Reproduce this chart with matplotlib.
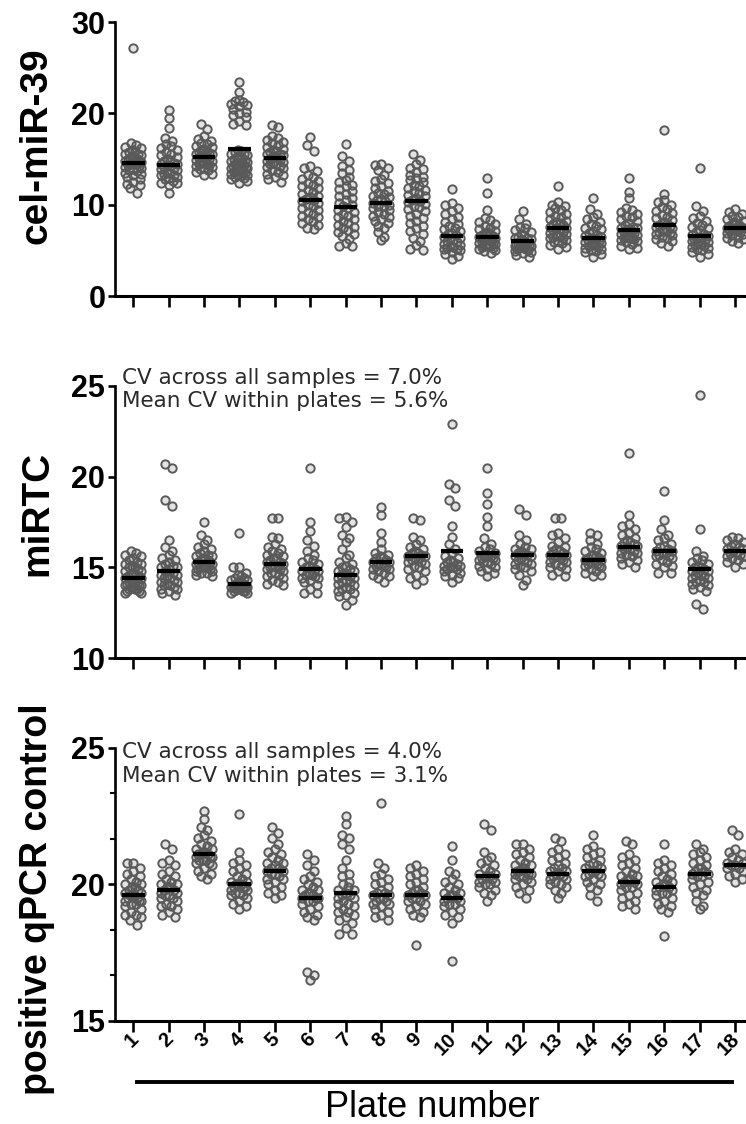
import numpy as np
import matplotlib
matplotlib.use("Agg")
import matplotlib.pyplot as plt
from matplotlib import font_manager
from matplotlib.lines import Line2D
from matplotlib.transforms import ScaledTranslation

# ---------------- data ----------------
plates = list(range(1, 19))
plate_labels = [str(p) for p in plates]

celmir39 = [
    [27.1, 16.8, 16.5, 16.3, 16.2, 16.0, 15.9, 15.8, 15.6, 15.5, 15.4, 15.3, 15.2, 15.1, 15.0, 15.0, 14.9, 14.8, 14.7, 14.6, 14.6, 14.5, 14.4, 14.3, 14.2, 14.1, 14.0, 13.9, 13.8, 13.7, 13.5, 13.4, 13.2, 13.0, 12.8, 12.5, 12.3, 12.1, 11.8, 11.3],
    [20.4, 19.5, 18.4, 17.3, 17.0, 16.6, 16.4, 16.2, 16.0, 15.8, 15.6, 15.4, 15.2, 15.0, 14.9, 14.8, 14.6, 14.5, 14.4, 14.3, 14.2, 14.1, 14.0, 13.9, 13.8, 13.6, 13.5, 13.4, 13.3, 13.2, 13.0, 12.9, 12.8, 12.6, 12.4, 12.4, 12.2, 11.3],
    [18.8, 18.3, 17.5, 17.2, 17.0, 16.8, 16.6, 16.4, 16.3, 16.1, 16.0, 15.9, 15.8, 15.7, 15.6, 15.5, 15.4, 15.3, 15.2, 15.1, 15.0, 14.9, 14.8, 14.7, 14.6, 14.5, 14.4, 14.3, 14.2, 14.1, 14.0, 13.9, 13.8, 13.6, 13.4, 13.2],
    [23.4, 22.3, 21.5, 21.3, 21.2, 21.0, 20.9, 20.8, 20.5, 20.2, 20.0, 19.8, 19.6, 19.2, 18.8, 18.7,
     16.0, 15.9, 15.8, 15.6, 15.5, 15.4, 15.3, 15.2, 15.1, 15.0, 14.9, 14.8, 14.7, 14.6, 14.6, 14.5, 14.5, 14.4, 14.3, 14.2, 14.1, 14.0, 14.0, 13.9, 13.8, 13.7, 13.6, 13.6, 13.5, 13.4, 13.3, 13.2, 13.1, 13.0, 12.9, 12.8, 12.6, 12.4],
    [18.7, 18.5, 17.5, 17.3, 17.1, 16.9, 16.7, 16.5, 16.3, 16.1, 16.0, 15.9, 15.8, 15.6, 15.5, 15.4, 15.3, 15.2, 15.1, 15.0, 14.9, 14.8, 14.7, 14.6, 14.5, 14.4, 14.2, 14.1, 14.0, 13.8, 13.6, 13.4, 13.2, 13.0, 12.8, 12.5],
    [17.4, 16.5, 15.9, 14.2, 14.0, 13.7, 13.2, 13.0, 12.8, 12.6, 12.4, 12.2, 12.0, 11.8, 11.6, 11.4, 11.2, 11.0, 10.8, 10.6, 10.5, 10.4, 10.2, 10.0, 9.8, 9.6, 9.4, 9.2, 9.0, 8.8, 8.6, 8.4, 8.2, 8.0, 7.8, 7.5, 7.3],
    [16.6, 15.3, 14.8, 14.2, 13.8, 13.5, 13.0, 12.7, 12.5, 12.2, 12.0, 11.7, 11.5, 11.2, 11.0, 10.7, 10.5, 10.2, 10.0, 9.8, 9.6, 9.4, 9.2, 9.0, 8.8, 8.6, 8.4, 8.2, 8.0, 7.8, 7.6, 7.4, 7.2, 7.0, 6.8, 6.6, 6.2, 5.8, 5.5, 5.5],
    [14.5, 14.3, 14.0, 13.8, 13.2, 12.8, 12.6, 12.4, 12.0, 11.8, 11.5, 11.3, 11.2, 11.0, 10.8, 10.6, 10.5, 10.4, 10.2, 10.0, 9.9, 9.8, 9.6, 9.4, 9.2, 9.0, 8.8, 8.6, 8.4, 8.2, 8.0, 7.7, 7.4, 7.0, 6.5, 6.1],
    [15.5, 14.9, 14.4, 14.0, 13.9, 13.6, 13.3, 13.0, 12.9, 12.7, 12.5, 12.2, 12.0, 11.8, 11.6, 11.5, 11.3, 11.1, 10.9, 10.7, 10.5, 10.4, 10.3, 10.1, 9.9, 9.7, 9.5, 9.3, 9.0, 8.8, 8.5, 8.2, 8.0, 7.7, 7.4, 7.1, 6.8, 6.4, 6.0, 5.6, 5.2, 5.0],
    [11.7, 10.2, 10.0, 9.6, 9.3, 9.0, 8.7, 8.4, 8.1, 7.9, 7.7, 7.5, 7.3, 7.1, 6.9, 6.8, 6.7, 6.5, 6.4, 6.2, 6.1, 6.0, 5.9, 5.7, 5.6, 5.5, 5.4, 5.3, 5.2, 5.1, 5.0, 4.8, 4.6, 4.4, 4.1],
    [12.9, 11.3, 9.4, 8.5, 8.3, 8.1, 7.9, 7.7, 7.5, 7.3, 7.1, 7.0, 6.9, 6.8, 6.7, 6.6, 6.5, 6.4, 6.3, 6.2, 6.1, 6.0, 5.9, 5.8, 5.8, 5.7, 5.6, 5.5, 5.5, 5.4, 5.3, 5.2, 5.0, 4.9, 4.7],
    [9.3, 8.4, 7.9, 7.6, 7.4, 7.2, 7.0, 6.8, 6.7, 6.5, 6.4, 6.3, 6.2, 6.1, 6.0, 6.0, 5.9, 5.8, 5.8, 5.7, 5.6, 5.5, 5.5, 5.4, 5.3, 5.3, 5.2, 5.1, 5.0, 4.9, 4.8, 4.7, 4.5, 4.3],
    [12.0, 10.3, 10.0, 9.8, 9.6, 9.4, 9.2, 9.0, 8.8, 8.6, 8.4, 8.2, 8.1, 8.0, 7.9, 7.8, 7.6, 7.5, 7.4, 7.3, 7.2, 7.0, 6.9, 6.8, 6.7, 6.6, 6.5, 6.4, 6.3, 6.1, 6.0, 5.9, 5.8, 5.6, 5.4, 5.1],
    [10.7, 9.5, 9.0, 8.7, 8.4, 8.1, 7.9, 7.7, 7.5, 7.3, 7.1, 6.9, 6.7, 6.6, 6.5, 6.4, 6.3, 6.2, 6.1, 6.0, 5.9, 5.8, 5.7, 5.6, 5.5, 5.4, 5.3, 5.2, 5.0, 4.9, 4.8, 4.6, 4.3],
    [12.9, 11.4, 10.7, 9.6, 9.4, 9.2, 9.0, 8.8, 8.6, 8.4, 8.2, 8.0, 7.8, 7.6, 7.5, 7.4, 7.3, 7.2, 7.1, 7.0, 6.9, 6.8, 6.7, 6.6, 6.5, 6.4, 6.3, 6.2, 6.1, 6.0, 5.9, 5.7, 5.5, 5.3, 5.1],
    [18.2, 11.2, 10.5, 10.3, 10.0, 9.7, 9.5, 9.3, 9.1, 8.9, 8.7, 8.5, 8.3, 8.1, 8.0, 7.9, 7.8, 7.7, 7.6, 7.5, 7.3, 7.2, 7.1, 7.0, 6.9, 6.8, 6.7, 6.5, 6.4, 6.2, 6.0, 5.8, 5.5],
    [14.0, 9.8, 9.3, 8.8, 8.5, 8.2, 8.0, 7.8, 7.6, 7.4, 7.2, 7.0, 6.8, 6.7, 6.6, 6.5, 6.4, 6.3, 6.2, 6.1, 6.0, 5.9, 5.8, 5.7, 5.6, 5.5, 5.4, 5.3, 5.1, 5.0, 4.8, 4.6, 4.3],
    [9.5, 9.2, 9.0, 8.8, 8.6, 8.4, 8.2, 8.1, 8.0, 7.9, 7.8, 7.7, 7.6, 7.5, 7.5, 7.4, 7.3, 7.2, 7.1, 7.0, 6.9, 6.8, 6.7, 6.5, 6.4, 6.2, 6.0, 5.8],
]
celmir39_mean = [14.6, 14.3, 15.2, 16.1, 15.1, 10.5, 9.7, 10.2, 10.4, 6.6, 6.5, 6.0, 7.4, 6.4, 7.2, 7.8, 6.6, 7.5]

mirtc = [
    [15.9, 15.8, 15.7, 15.6, 15.5, 15.4, 15.3, 15.2, 15.2, 15.1, 15.0, 15.0, 14.9, 14.8, 14.8, 14.7, 14.6, 14.6, 14.5, 14.5, 14.4, 14.4, 14.3, 14.3, 14.2, 14.2, 14.1, 14.1, 14.0, 14.0, 14.0, 13.9, 13.9, 13.8, 13.8, 13.8, 13.7, 13.7, 13.6, 13.6],
    [20.7, 20.5, 18.7, 18.4, 16.5, 16.1, 15.9, 15.7, 15.5, 15.4, 15.3, 15.2, 15.1, 15.0, 15.0, 14.9, 14.8, 14.7, 14.6, 14.6, 14.5, 14.4, 14.4, 14.3, 14.2, 14.2, 14.1, 14.0, 14.0, 13.9, 13.8, 13.8, 13.7, 13.6, 13.5],
    [17.5, 16.8, 16.5, 16.3, 16.1, 16.0, 15.9, 15.8, 15.7, 15.6, 15.6, 15.5, 15.5, 15.4, 15.4, 15.3, 15.3, 15.2, 15.2, 15.1, 15.1, 15.0, 15.0, 15.0, 14.9, 14.9, 14.8, 14.8, 14.7, 14.7, 14.6, 14.5],
    [16.9, 15.0, 15.0, 14.7, 14.6, 14.5, 14.4, 14.4, 14.3, 14.3, 14.2, 14.2, 14.2, 14.1, 14.1, 14.1, 14.0, 14.0, 14.0, 14.0, 13.9, 13.9, 13.9, 13.9, 13.8, 13.8, 13.8, 13.7, 13.7, 13.7, 13.6, 13.6],
    [17.7, 17.7, 16.7, 16.6, 16.3, 16.1, 16.0, 15.9, 15.8, 15.7, 15.6, 15.5, 15.5, 15.4, 15.3, 15.3, 15.2, 15.1, 15.1, 15.0, 15.0, 14.9, 14.9, 14.8, 14.7, 14.7, 14.6, 14.5, 14.4, 14.3, 14.2, 14.1, 14.0],
    [20.5, 17.5, 17.0, 16.5, 16.2, 15.9, 15.7, 15.5, 15.4, 15.3, 15.2, 15.1, 15.0, 15.0, 14.9, 14.8, 14.8, 14.7, 14.6, 14.6, 14.5, 14.4, 14.4, 14.3, 14.2, 14.0, 13.8, 13.6, 13.6],
    [17.8, 17.7, 17.5, 17.2, 16.8, 16.6, 16.4, 16.0, 15.7, 15.5, 15.3, 15.2, 15.1, 15.0, 14.9, 14.8, 14.8, 14.7, 14.6, 14.6, 14.5, 14.4, 14.4, 14.3, 14.2, 14.2, 14.1, 14.0, 13.9, 13.8, 13.8, 13.7, 13.6, 13.5, 13.4, 13.2, 12.9],
    [18.3, 17.9, 16.9, 16.4, 16.0, 15.8, 15.7, 15.6, 15.5, 15.5, 15.4, 15.3, 15.3, 15.2, 15.2, 15.1, 15.1, 15.0, 14.9, 14.9, 14.8, 14.7, 14.6, 14.5, 14.4, 14.2],
    [17.7, 17.6, 16.7, 16.5, 16.3, 16.1, 16.0, 15.9, 15.8, 15.8, 15.7, 15.6, 15.6, 15.5, 15.5, 15.4, 15.3, 15.3, 15.2, 15.1, 15.0, 14.9, 14.8, 14.6, 14.4, 14.3, 14.1],
    [22.9, 19.6, 19.4, 18.7, 18.4, 17.3, 16.7, 16.3, 16.0, 15.8, 15.6, 15.5, 15.4, 15.3, 15.3, 15.2, 15.1, 15.1, 15.0, 15.0, 14.9, 14.9, 14.8, 14.7, 14.6, 14.5, 14.4, 14.2],
    [20.5, 19.1, 18.5, 17.8, 17.3, 16.6, 16.3, 16.1, 16.0, 15.9, 15.8, 15.7, 15.7, 15.6, 15.6, 15.5, 15.5, 15.4, 15.4, 15.3, 15.3, 15.2, 15.1, 15.0, 14.9, 14.8, 14.7, 14.5],
    [18.2, 17.9, 16.8, 16.5, 16.3, 16.1, 16.0, 16.0, 15.9, 15.8, 15.8, 15.7, 15.6, 15.6, 15.5, 15.4, 15.4, 15.3, 15.2, 15.2, 15.1, 15.0, 14.9, 14.8, 14.6, 14.3, 14.0],
    [17.7, 17.7, 16.9, 16.8, 16.6, 16.4, 16.2, 16.1, 16.0, 15.9, 15.9, 15.8, 15.7, 15.7, 15.6, 15.6, 15.5, 15.5, 15.4, 15.3, 15.3, 15.2, 15.1, 15.0, 14.9, 14.8, 14.6, 14.5],
    [16.9, 16.8, 16.5, 16.3, 16.1, 16.0, 15.9, 15.8, 15.7, 15.6, 15.6, 15.5, 15.5, 15.4, 15.4, 15.3, 15.3, 15.3, 15.2, 15.2, 15.1, 15.1, 15.0, 14.9, 14.8, 14.7, 14.6, 14.5],
    [21.3, 17.9, 17.4, 17.3, 17.1, 16.9, 16.8, 16.6, 16.5, 16.4, 16.4, 16.3, 16.2, 16.2, 16.1, 16.0, 16.0, 15.9, 15.8, 15.8, 15.7, 15.6, 15.5, 15.4, 15.3, 15.2, 15.0],
    [19.2, 17.6, 17.1, 16.8, 16.6, 16.5, 16.3, 16.2, 16.1, 16.0, 15.9, 15.9, 15.8, 15.8, 15.7, 15.6, 15.6, 15.5, 15.4, 15.3, 15.2, 15.1, 15.0, 14.7, 14.7],
    [24.5, 17.1, 15.9, 15.6, 15.5, 15.4, 15.3, 15.2, 15.1, 15.0, 15.0, 14.9, 14.8, 14.8, 14.7, 14.6, 14.6, 14.5, 14.4, 14.4, 14.3, 14.2, 14.2, 14.1, 14.0, 13.9, 13.8, 13.7, 13.0, 12.7],
    [16.7, 16.6, 16.5, 16.4, 16.3, 16.2, 16.1, 16.0, 16.0, 15.9, 15.8, 15.8, 15.7, 15.6, 15.6, 15.5, 15.4, 15.3, 15.2, 15.0],
]
mirtc_mean = [14.4, 14.8, 15.3, 14.1, 15.2, 14.9, 14.6, 15.3, 15.6, 15.9, 15.8, 15.7, 15.7, 15.4, 16.1, 15.9, 14.9, 15.9]

pos_qpcr = [
    [20.8, 20.8, 20.6, 20.5, 20.4, 20.3, 20.2, 20.1, 20.0, 20.0, 19.9, 19.9, 19.8, 19.8, 19.7, 19.7, 19.6, 19.6, 19.6, 19.5, 19.5, 19.4, 19.4, 19.4, 19.3, 19.3, 19.2, 19.1, 19.0, 18.9, 18.9, 18.8, 18.7, 18.5],
    [21.5, 21.3, 20.9, 20.8, 20.7, 20.5, 20.4, 20.3, 20.2, 20.1, 20.0, 20.0, 19.9, 19.9, 19.8, 19.8, 19.7, 19.7, 19.6, 19.6, 19.5, 19.5, 19.4, 19.3, 19.2, 19.2, 19.1, 19.0, 18.9, 18.8],
    [22.7, 22.4, 22.1, 22.0, 21.8, 21.7, 21.6, 21.5, 21.4, 21.3, 21.3, 21.2, 21.2, 21.1, 21.1, 21.1, 21.0, 21.0, 21.0, 20.9, 20.9, 20.9, 20.8, 20.8, 20.7, 20.6, 20.5, 20.4, 20.3, 20.2],
    [22.6, 21.2, 20.9, 20.8, 20.7, 20.6, 20.5, 20.4, 20.3, 20.2, 20.1, 20.1, 20.0, 20.0, 20.0, 19.9, 19.9, 19.9, 19.8, 19.8, 19.7, 19.7, 19.6, 19.6, 19.5, 19.4, 19.3, 19.2, 19.1],
    [22.1, 21.9, 21.7, 21.5, 21.3, 21.2, 21.1, 21.0, 20.9, 20.8, 20.8, 20.7, 20.6, 20.6, 20.5, 20.5, 20.4, 20.4, 20.3, 20.2, 20.2, 20.1, 20.0, 19.9, 19.8, 19.7, 19.6, 19.5],
    [21.1, 20.9, 20.7, 20.5, 20.3, 20.2, 20.1, 20.0, 19.9, 19.8, 19.8, 19.7, 19.7, 19.6, 19.6, 19.5, 19.5, 19.5, 19.4, 19.4, 19.3, 19.2, 19.1, 19.0, 18.9, 18.8, 18.7, 16.8, 16.7, 16.5],
    [22.5, 22.2, 21.8, 21.7, 21.5, 21.3, 20.9, 20.6, 20.4, 20.3, 20.1, 20.0, 19.9, 19.8, 19.8, 19.7, 19.6, 19.6, 19.5, 19.5, 19.4, 19.3, 19.3, 19.2, 19.1, 19.0, 19.0, 18.9, 18.8, 18.7, 18.6, 18.4, 18.2, 18.2],
    [23.0, 20.8, 20.6, 20.4, 20.3, 20.2, 20.1, 20.0, 19.9, 19.8, 19.7, 19.7, 19.6, 19.6, 19.5, 19.5, 19.4, 19.4, 19.3, 19.3, 19.2, 19.1, 19.0, 18.9, 18.8, 18.7],
    [20.7, 20.6, 20.5, 20.4, 20.3, 20.2, 20.1, 20.0, 19.9, 19.8, 19.8, 19.7, 19.7, 19.6, 19.6, 19.5, 19.5, 19.4, 19.4, 19.3, 19.2, 19.1, 19.0, 18.9, 18.8, 17.8],
    [21.4, 20.9, 20.5, 20.4, 20.2, 20.1, 20.0, 19.9, 19.8, 19.7, 19.7, 19.6, 19.6, 19.5, 19.5, 19.4, 19.4, 19.3, 19.3, 19.2, 19.1, 19.0, 18.9, 18.8, 18.6, 17.2],
    [22.2, 22.0, 21.2, 21.0, 20.9, 20.8, 20.7, 20.6, 20.5, 20.4, 20.4, 20.3, 20.3, 20.2, 20.2, 20.1, 20.1, 20.0, 20.0, 19.9, 19.8, 19.7, 19.6, 19.4],
    [21.5, 21.5, 21.3, 21.2, 21.1, 21.0, 20.9, 20.8, 20.7, 20.7, 20.6, 20.6, 20.5, 20.5, 20.5, 20.4, 20.4, 20.4, 20.3, 20.3, 20.2, 20.2, 20.1, 20.0, 19.9, 19.8, 19.7, 19.5],
    [21.7, 21.6, 21.3, 21.2, 21.1, 21.0, 20.9, 20.8, 20.7, 20.6, 20.6, 20.5, 20.5, 20.4, 20.4, 20.3, 20.3, 20.2, 20.2, 20.1, 20.0, 20.0, 19.9, 19.8, 19.7, 19.5],
    [21.8, 21.4, 21.3, 21.2, 21.1, 21.0, 20.9, 20.8, 20.7, 20.7, 20.6, 20.6, 20.5, 20.5, 20.4, 20.4, 20.3, 20.3, 20.2, 20.1, 20.0, 19.9, 19.8, 19.6, 19.4],
    [21.6, 21.5, 21.1, 21.0, 20.9, 20.8, 20.7, 20.6, 20.5, 20.4, 20.3, 20.3, 20.2, 20.2, 20.1, 20.1, 20.0, 20.0, 19.9, 19.9, 19.8, 19.7, 19.6, 19.5, 19.4, 19.3, 19.2, 19.1],
    [21.5, 20.9, 20.8, 20.7, 20.6, 20.5, 20.4, 20.3, 20.2, 20.1, 20.1, 20.0, 20.0, 19.9, 19.9, 19.8, 19.8, 19.7, 19.7, 19.6, 19.5, 19.4, 19.3, 19.2, 19.1, 19.0, 18.1],
    [21.5, 21.3, 21.2, 21.1, 21.0, 20.9, 20.8, 20.7, 20.6, 20.6, 20.5, 20.5, 20.4, 20.4, 20.3, 20.3, 20.2, 20.1, 20.0, 19.9, 19.8, 19.7, 19.6, 19.4, 19.2, 19.1],
    [22.0, 21.8, 21.3, 21.2, 21.1, 21.0, 20.9, 20.8, 20.8, 20.7, 20.7, 20.6, 20.6, 20.5, 20.4, 20.3, 20.2, 20.1],
]
pos_qpcr_mean = [19.6, 19.8, 21.1, 20.0, 20.5, 19.5, 19.7, 19.6, 19.6, 19.5, 20.3, 20.5, 20.4, 20.5, 20.1, 19.9, 20.4, 20.7]

y_labels = ["cel-miR-39", "miRTC", "positive qPCR control"]
cv_texts = [None,
            ("CV across all samples = 7.0%", "Mean CV within plates = 5.6%"),
            ("CV across all samples = 4.0%", "Mean CV within plates = 3.1%")]

# ---------------- fonts ----------------
_names = {f.name for f in font_manager.fontManager.ttflist}
HAS_NARROW = "Liberation Sans Narrow" in _names
NARROW = "Liberation Sans Narrow" if HAS_NARROW else "Liberation Sans"
SANS = "Liberation Sans"
TICK_FS = 25 if HAS_NARROW else 22
XT_FS = 16 if HAS_NARROW else 14.5

# ---------------- figure ----------------
W, H = 746, 1124
fig = plt.figure(figsize=(W / 100, H / 100), dpi=100)

def fx(px):
    return px / W

def fy(py):
    return 1 - py / H

ax_left = 115
panels = [
    dict(data=celmir39, mean=celmir39_mean, top=22, bottom=296, ylim=(0, 30), yticks=[0, 10, 20, 30], minor=None),
    dict(data=mirtc, mean=mirtc_mean, top=386, bottom=658, ylim=(10, 25), yticks=[10, 15, 20, 25], minor=None),
    dict(data=pos_qpcr, mean=pos_qpcr_mean, top=748, bottom=1021, ylim=(15, 25), yticks=[15, 20, 25],
         minor=[15 + 5 / 3, 15 + 10 / 3, 20 + 5 / 3, 20 + 10 / 3]),
]

spacing_px = 35.4
first_px = 133.3
xlim = (1 - (first_px - ax_left) / spacing_px, 1 + (W - first_px) / spacing_px)


def row_offsets(vals, ppx, ppy, row_h=6.0, sp_max=6.5, half_w=8.0):
    """Column-scatter layout: group values into rows of row_h pixels and
    spread each row symmetrically around the plate centre."""
    vals = np.asarray(vals, float)
    ypx = vals * ppy
    order = np.argsort(-ypx, kind="stable")
    offs = np.zeros(len(vals))
    rows = []
    cur = [order[0]]
    start = ypx[order[0]]
    for i in order[1:]:
        if start - ypx[i] < row_h:
            cur.append(i)
        else:
            rows.append(cur)
            cur = [i]
            start = ypx[i]
    rows.append(cur)
    for r in rows:
        n = len(r)
        if n == 1:
            continue
        sp = min(sp_max, 2 * half_w / (n - 1))
        pos = (np.arange(n) - (n - 1) / 2) * sp
        idx = sorted(range(n), key=lambda j: abs(pos[j]))
        for j, ii in zip(idx, r):
            offs[ii] = pos[j]
    return offs / ppx


axes = []
for k, p in enumerate(panels):
    ax = fig.add_axes([fx(ax_left), fy(p["bottom"]), fx(W - ax_left), (p["bottom"] - p["top"]) / H])
    ax.set_xlim(*xlim)
    ax.set_ylim(*p["ylim"])
    ppx = spacing_px
    ppy = (p["bottom"] - p["top"]) / (p["ylim"][1] - p["ylim"][0])
    for i, plate in enumerate(plates):
        vals = np.asarray(p["data"][i], float)
        offs = row_offsets(vals, ppx, ppy)
        ax.scatter(plate + offs, vals, s=36, facecolors=(0.33, 0.33, 0.33, 0.16), edgecolors="#5a5a5a",
                   linewidths=1.4, zorder=2, clip_on=False)
        ax.hlines(p["mean"][i], plate - 0.32, plate + 0.32, colors="black", linewidth=3.0, zorder=3)
    for s in ["top", "right"]:
        ax.spines[s].set_visible(False)
    ax.spines["left"].set_linewidth(1.9)
    ax.spines["bottom"].set_linewidth(2.2)
    ax.set_xticks(plates)
    ax.tick_params(axis="x", direction="out", length=8, width=1.9)
    ax.tick_params(axis="y", direction="out", length=5, width=1.9, pad=2)
    ax.set_yticks(p["yticks"])
    ax.set_yticklabels([str(t) for t in p["yticks"]], fontfamily=NARROW, fontweight="bold", fontsize=TICK_FS)
    if p["minor"]:
        ax.set_yticks(p["minor"], minor=True)
        ax.tick_params(axis="y", which="minor", direction="out", length=3.5, width=1.5)
    if k < 2:
        ax.set_xticklabels([])
    else:
        ax.set_xticklabels(plate_labels, rotation=45, ha="right", va="center", rotation_mode="anchor",
                           fontfamily=NARROW, fontweight="bold", fontsize=XT_FS)
        ax.tick_params(axis="x", pad=3)
        shift = ScaledTranslation(2 / 100, 0, fig.dpi_scale_trans)
        for lbl in ax.get_xticklabels():
            lbl.set_transform(lbl.get_transform() + shift)
    axes.append(ax)

# y labels
ylab_centers = [146, 513, 899]
ylab_sizes = [28, 28, 27]
for lab, yc, fs in zip(y_labels, ylab_centers, ylab_sizes):
    fig.text(fx(47), fy(yc), lab, rotation=90, rotation_mode="anchor", ha="center", va="baseline",
             fontfamily=SANS, fontweight="bold", fontsize=fs)

# CV annotations
cv_baselines = [None, (384, 407), (758, 782)]
for txt, bl in zip(cv_texts, cv_baselines):
    if txt is None:
        continue
    for line, b in zip(txt, bl):
        fig.text(fx(122), fy(b), line, ha="left", va="baseline", fontfamily="DejaVu Sans",
                 fontsize=15.5, color="#2a2a2a")

# x-axis title bar and label
fig.add_artist(Line2D([fx(137), fx(732)], [fy(1082), fy(1082)], transform=fig.transFigure,
                      color="black", linewidth=2.8))
fig.text(fx(432), fy(1117), "Plate number", ha="center", va="baseline", fontfamily=SANS, fontsize=26)

fig.savefig("out.png", dpi=100)
